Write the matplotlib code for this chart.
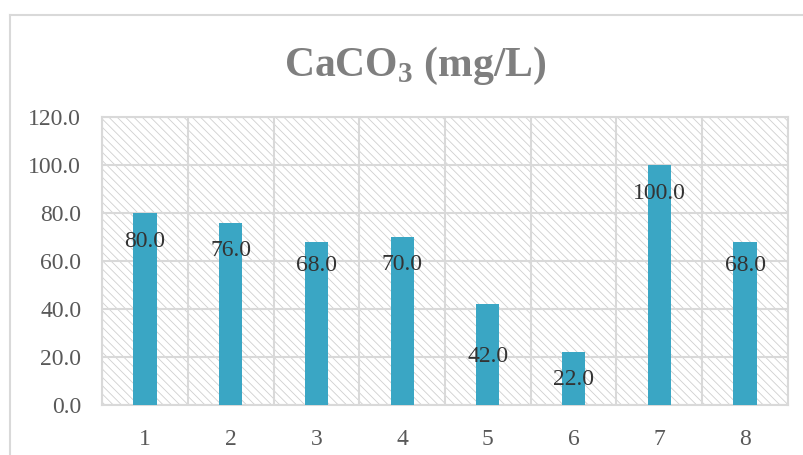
import numpy as np
import matplotlib.pyplot as plt
from matplotlib.patches import Rectangle
from matplotlib.lines import Line2D

plt.rcParams['font.family'] = 'Liberation Serif'
plt.rcParams['mathtext.fontset'] = 'custom'
plt.rcParams['mathtext.rm'] = 'Liberation Serif:bold'
plt.rcParams['mathtext.bf'] = 'Liberation Serif:bold'
plt.rcParams['hatch.color'] = '#d0d0d0'
plt.rcParams['hatch.linewidth'] = 0.6

samples = ['1', '2', '3', '4', '5', '6', '7', '8']
caco3 = [80.0, 76.0, 68.0, 70.0, 42.0, 22.0, 100.0, 68.0]
# where the value labels sit
label_pos = [68, 64.5, 58, 58.5, 20, 10.5, 88, 58]

fig = plt.figure(figsize=(8.04, 4.55), dpi=100)
ax = fig.add_axes([0.127, 0.110, 0.853, 0.633])

x = np.arange(len(samples))

# hatched background of the plot area
ax.add_patch(Rectangle((0, 0), 1, 1, transform=ax.transAxes, facecolor='white',
                       edgecolor='#d0d0d0', hatch='\\\\\\\\', lw=0, zorder=0))

ax.bar(x, caco3, width=0.27, color='#3aa6c4', zorder=3)

for xi, v, ly in zip(x, caco3, label_pos):
    ax.text(xi, ly, '%.1f' % v, ha='center', va='center', fontsize=17,
            color='#333333', zorder=4)

ax.set_xlim(-0.5, len(samples) - 0.5)
ax.set_ylim(0, 120)
ax.set_yticks(np.arange(0, 121, 20))
ax.set_yticklabels(['%.1f' % t for t in np.arange(0, 121, 20)])
ax.set_xticks(x)
ax.set_xticklabels(samples)
ax.set_xticks(np.arange(-0.5, len(samples), 1), minor=True)

ax.grid(axis='y', color='#d9d9d9', lw=1.5, zorder=1)
ax.grid(axis='x', which='minor', color='#d9d9d9', lw=1.5, zorder=1)
ax.set_axisbelow(True)
ax.tick_params(axis='both', which='both', length=0, labelsize=17,
               labelcolor='#595959')
ax.tick_params(axis='x', pad=17)
ax.tick_params(axis='y', pad=15)
for s in ax.spines.values():
    s.set_color('#d9d9d9')
    s.set_linewidth(1.5)

fig.text(0.516, 0.855, r'CaCO$_{3}$ (mg/L)', ha='center', va='center',
         fontsize=30, fontweight='bold', color='#7f7f7f')

# outer chart border
fig.add_artist(Line2D([10 / 804, 10 / 804], [0, 1 - 15 / 455],
                      transform=fig.transFigure, color='#d9d9d9', lw=1.5))
fig.add_artist(Line2D([10 / 804, 1], [1 - 15 / 455, 1 - 15 / 455],
                      transform=fig.transFigure, color='#d9d9d9', lw=1.5))

fig.savefig('out.png', dpi=100)
